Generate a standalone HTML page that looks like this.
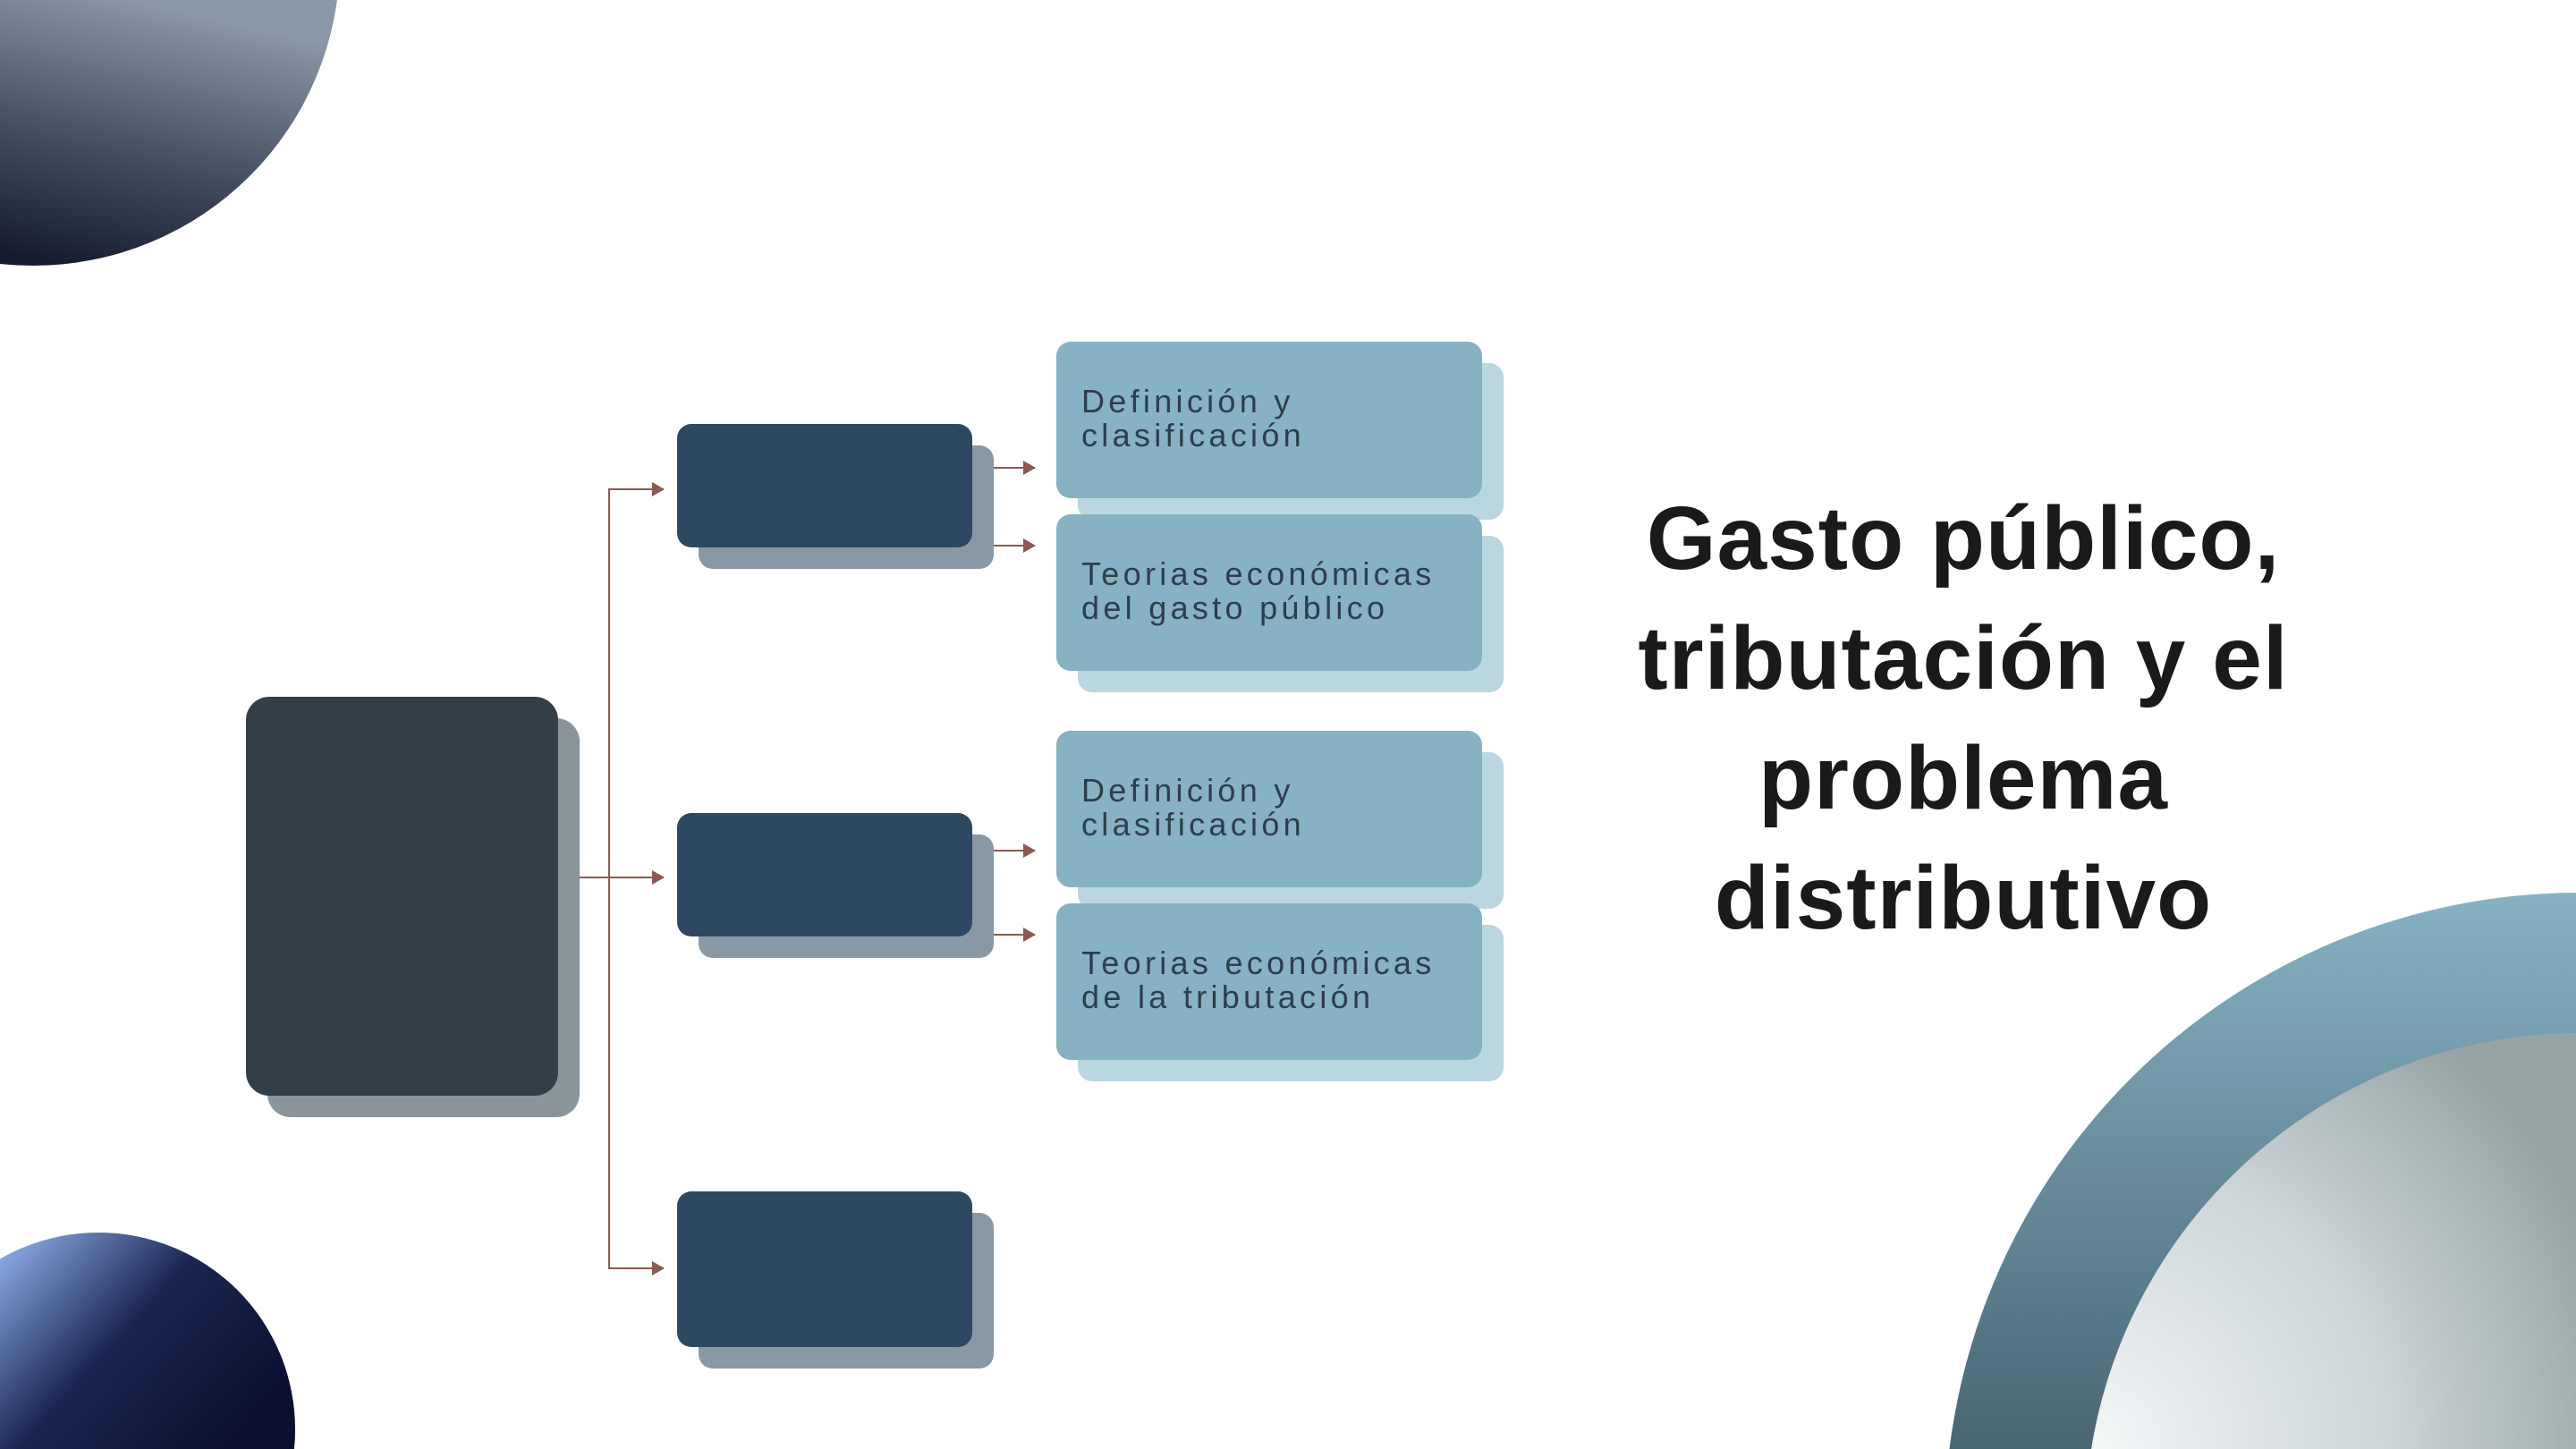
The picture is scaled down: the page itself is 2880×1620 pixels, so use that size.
<!DOCTYPE html>
<html><head><meta charset="utf-8"><style>
html,body{margin:0;padding:0;background:#fff;width:2880px;height:1620px;overflow:hidden;}
body{position:relative;font-family:"Liberation Sans",sans-serif;}
svg{position:absolute;left:0;top:0;display:block;}
.t{position:absolute;color:#2d3e4c;font-size:36px;letter-spacing:4.3px;line-height:38px;}
.title{position:absolute;left:1700px;width:990px;top:535px;text-align:center;font-weight:bold;font-size:100px;line-height:134px;color:#1a1a1a;letter-spacing:1px;}
</style></head><body>
<svg width="2880" height="1620" viewBox="0 0 2880 1620">
<defs>
<linearGradient id="tl" gradientUnits="userSpaceOnUse" x1="150" y1="0" x2="80" y2="300"><stop offset="0" stop-color="#8a97a8"/><stop offset="0.5" stop-color="#4a5467"/><stop offset="1" stop-color="#151c30"/></linearGradient>
<linearGradient id="bl" gradientUnits="userSpaceOnUse" x1="0" y1="1390" x2="250" y2="1620"><stop offset="0" stop-color="#8fb0ea"/><stop offset="0.5" stop-color="#1a2550"/><stop offset="1" stop-color="#0b1030"/></linearGradient>
<linearGradient id="ring" gradientUnits="userSpaceOnUse" x1="0" y1="1000" x2="0" y2="1620"><stop offset="0" stop-color="#86b2c3"/><stop offset="1" stop-color="#4a6674"/></linearGradient>
<radialGradient id="inner" gradientUnits="userSpaceOnUse" cx="2340" cy="1620" r="600"><stop offset="0" stop-color="#f4f6f7"/><stop offset="0.55" stop-color="#ccd5d8"/><stop offset="1" stop-color="#97a4a6"/></radialGradient>
<marker id="ah" markerWidth="14" markerHeight="16" refX="13" refY="8" orient="auto" markerUnits="userSpaceOnUse"><path d="M0,0 L14,8 L0,16 z" fill="#8b5a52"/></marker>
</defs>
<circle cx="37" cy="-46" r="343" fill="url(#tl)"/>
<circle cx="110" cy="1598" r="220" fill="url(#bl)"/>
<circle cx="2884" cy="1708" r="710" fill="url(#ring)"/>
<circle cx="2884" cy="1708" r="553" fill="url(#inner)"/>
<g stroke="#8b5a52" stroke-width="2" fill="none">
<path d="M742,547 H681 V1418 H742" marker-end="url(#ah)"/>
<path d="M681,547 H742" marker-end="url(#ah)"/>
<path d="M648,981 H742" marker-end="url(#ah)"/>
<path d="M1109,523 H1157" marker-end="url(#ah)"/>
<path d="M1109,610 H1157" marker-end="url(#ah)"/>
<path d="M1109,951 H1157" marker-end="url(#ah)"/>
<path d="M1109,1045 H1157" marker-end="url(#ah)"/>
</g>
<rect x="299" y="803" width="349" height="446" rx="26" fill="#8a959b"/>
<rect x="275" y="779" width="349" height="446" rx="26" fill="#333f48"/>
<g fill="#8898a5">
<rect x="781" y="498" width="330" height="138" rx="16"/>
<rect x="781" y="933" width="330" height="138" rx="16"/>
<rect x="781" y="1356" width="330" height="174" rx="16"/>
</g>
<g fill="#2d4961">
<rect x="757" y="474" width="330" height="138" rx="16"/>
<rect x="757" y="909" width="330" height="138" rx="16"/>
<rect x="757" y="1332" width="330" height="174" rx="16"/>
</g>
<g fill="#bad6e0">
<rect x="1205" y="406" width="476" height="175" rx="16"/>
<rect x="1205" y="599" width="476" height="175" rx="16"/>
<rect x="1205" y="841" width="476" height="175" rx="16"/>
<rect x="1205" y="1034" width="476" height="175" rx="16"/>
</g>
<g fill="#86b2c3">
<rect x="1181" y="382" width="476" height="175" rx="16"/>
<rect x="1181" y="575" width="476" height="175" rx="16"/>
<rect x="1181" y="817" width="476" height="175" rx="16"/>
<rect x="1181" y="1010" width="476" height="175" rx="16"/>
</g>
</svg>
<div class="t" style="left:1209px;top:430px;">Definición y<br>clasificación</div>
<div class="t" style="left:1209px;top:623px;">Teorias económicas<br>del gasto público</div>
<div class="t" style="left:1209px;top:865px;">Definición y<br>clasificación</div>
<div class="t" style="left:1209px;top:1058px;">Teorias económicas<br>de la tributación</div>
<div class="title">Gasto público,<br>tributación y el<br>problema<br>distributivo</div>
</body></html>
